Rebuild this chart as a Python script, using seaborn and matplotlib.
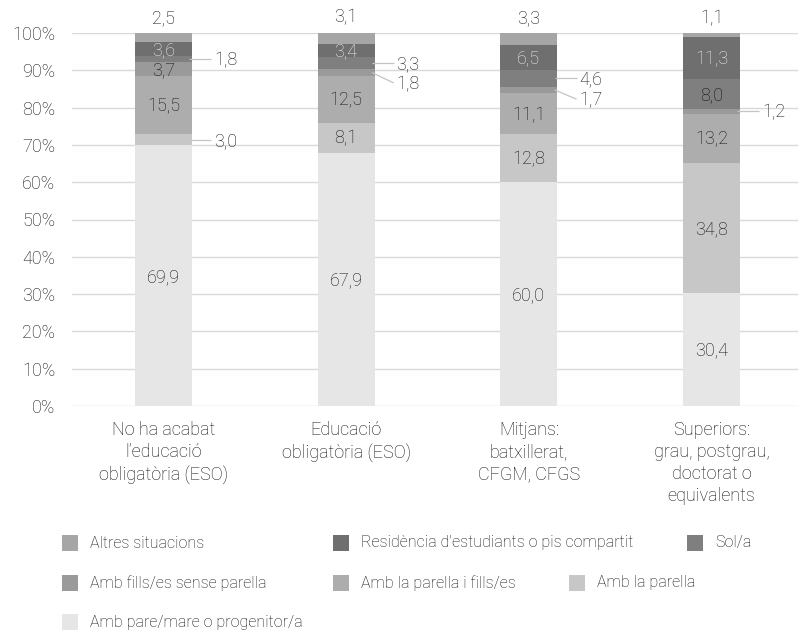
import numpy as np
import pandas as pd
import matplotlib
matplotlib.use("Agg")
import matplotlib.pyplot as plt
from matplotlib.patches import Rectangle
import seaborn as sns

# ---------------- data ----------------
categories = [
    "No ha acabat\nl\u2019educació\nobligatòria (ESO)",
    "Educació\nobligatòria (ESO)",
    "Mitjans:\nbatxillerat,\nCFGM, CFGS",
    "Superiors:\ngrau, postgrau,\ndoctorat o\nequivalents",
]
# stacking order: bottom -> top
series = [
    "Amb pare/mare o progenitor/a",
    "Amb la parella",
    "Amb la parella i fills/es",
    "Amb fills/es sense parella",
    "Sol/a",
    "Residència d'estudiants o pis compartit",
    "Altres situacions",
]
pare_mare = [69.9, 67.9, 60.0, 30.4]
parella = [3.0, 8.1, 12.8, 34.8]
parella_fills = [15.5, 12.5, 11.1, 13.2]
fills_sense = [3.7, 1.8, 1.7, 1.2]
sol = [1.8, 3.3, 4.6, 8.0]
residencia = [3.6, 3.4, 6.5, 11.3]
altres = [2.5, 3.1, 3.3, 1.1]
values = [pare_mare, parella, parella_fills, fills_sense, sol, residencia, altres]
yticks = [0, 10, 20, 30, 40, 50, 60, 70, 80, 90, 100]

# ---------------- style ----------------
colors = ["#e6e6e6", "#c7c7c7", "#adadad", "#9a9a9a", "#7f7f7f", "#6f6f6f", "#a6a6a6"]
label_colors = ["#111111"] * 5 + ["#eeeeee", "#111111"]
# label placement: (bar index, series index) -> ("top",) or ("right", dy)
outside = {
    (0, 6): ("top", 0), (0, 4): ("right", 0), (0, 1): ("right", 0),
    (1, 6): ("top", 0), (1, 4): ("right", 0), (1, 3): ("right", -2.8),
    (2, 6): ("top", 0), (2, 4): ("right", 0), (2, 3): ("right", -2.5),
    (3, 6): ("top", 0), (3, 3): ("right", 0),
}
FS = 13
TXT = "#111111"

sns.set_theme(style="white")
plt.rcParams["font.family"] = ["Roboto", "DejaVu Sans"]
plt.rcParams["font.weight"] = "light"

W, H = 798, 634
fig = plt.figure(figsize=(W / 100, H / 100), dpi=100)
ax = fig.add_axes([72 / W, (H - 406) / H, (W - 72) / W, (406 - 33) / H])

x_pos = np.arange(len(categories))
df = pd.DataFrame({"cat": np.repeat(x_pos, len(series)),
                   "ser": np.tile(np.arange(len(series)), len(categories)),
                   "val": np.array(values).T.ravel()})
df["cum"] = df.groupby("cat")["val"].cumsum()

bar_w = 0.312
for k in reversed(range(len(series))):
    sub = df[df["ser"] == k]
    sns.barplot(data=sub, x="cat", y="cum", color=colors[k], width=bar_w,
                native_scale=True, ax=ax, saturation=1, errorbar=None, zorder=2,
                edgecolor="none", linewidth=0)

ax.set_xlim(-0.5, 3.473)
ax.set_ylim(0, 100)
ax.set_yticks(yticks)
ax.set_yticklabels([f"{t}%" for t in yticks])
ax.set_xticks(x_pos)
ax.set_xticklabels(categories, linespacing=1.28)
ax.tick_params(axis="both", length=0, labelsize=FS, colors=TXT)
ax.tick_params(axis="y", pad=12)
ax.tick_params(axis="x", pad=11)
ax.set_xlabel("")
ax.set_ylabel("")
for s in ax.spines.values():
    s.set_visible(False)
ax.yaxis.grid(True, color="#d9d9d9", linewidth=1.0, zorder=0)
ax.set_axisbelow(True)

# ---------------- value labels ----------------
fmt = lambda v: f"{v:.1f}".replace(".", ",")
for i in range(len(categories)):
    base = 0.0
    for k in range(len(series)):
        v = values[k][i]
        yc = base + v / 2
        key = (i, k)
        if key in outside:
            mode, dy = outside[key]
            if mode == "top":
                ax.text(i, base + v + 1.6, fmt(v), ha="center", va="bottom",
                        fontsize=FS, color=TXT, zorder=5)
            else:
                x0 = i + bar_w / 2 - 0.015
                x1 = i + bar_w / 2 + 0.105
                ax.plot([x0, x1], [yc, yc + dy], color="#c4c4c4", lw=0.9,
                        zorder=4, solid_capstyle="butt")
                ax.text(x1 + 0.015, yc + dy - 0.3, fmt(v), ha="left", va="center",
                        fontsize=FS, color=TXT, zorder=5)
        else:
            ax.text(i, yc - 0.3, fmt(v), ha="center", va="center",
                    fontsize=FS, color=label_colors[k], zorder=5)
        base += v

# ---------------- legend (flow layout) ----------------
legend_items = [
    (6, 62, 543), (5, 333, 543), (4, 687, 543),
    (3, 62, 583), (2, 333, 583), (1, 569, 583),
    (0, 62, 622),
]
for k, px, py in legend_items:
    fig.add_artist(Rectangle((px / W, (H - py - 8) / H), 16 / W, 16 / H,
                             transform=fig.transFigure, facecolor=colors[k],
                             edgecolor="none"))
    fig.text((px + 28) / W, (H - py) / H, series[k], ha="left", va="center",
             fontsize=11.5, color=TXT)

fig.savefig("out.png", dpi=100)
